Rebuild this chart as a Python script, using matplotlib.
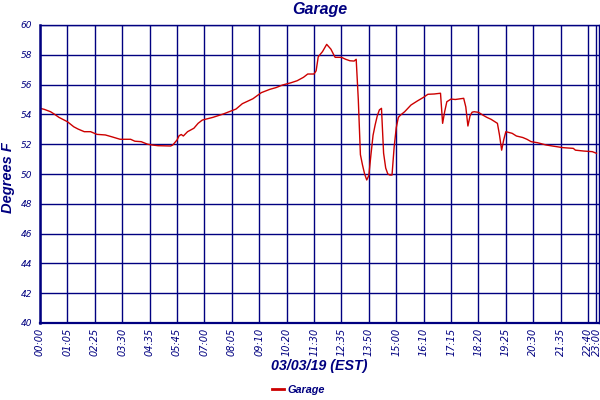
import matplotlib
matplotlib.use("Agg")
import matplotlib.pyplot as plt

# odczyty temperatury (indeks próbki co ~5 min, stopnie F)
sample_idx = [0, 2, 5, 7, 9, 13, 16, 18, 21, 24, 27, 31, 34, 38, 43, 45, 48, 51, 53, 56,
              62, 63, 65, 66, 67, 68, 70, 73, 75, 77, 82, 87, 93, 96, 101, 105, 109, 112,
              115, 119, 122, 125, 127, 130, 131, 132, 134, 136, 138, 139, 140, 143, 145,
              147, 149, 150, 151, 152, 153, 154, 155, 156, 157, 158, 159, 160, 161, 162,
              163, 164, 165, 166, 167, 168, 169, 170, 171, 173, 176, 179, 182, 184, 187,
              190, 191, 192, 193, 195, 197, 201, 202, 203, 204, 205, 206, 208, 210, 212,
              214, 217, 218, 219, 220, 221, 224, 226, 229, 231, 233, 236, 240, 243, 248,
              253, 254, 258, 262, 264]
temp_f = [54.41, 54.34, 54.18, 54.00, 53.80, 53.51, 53.17, 53.02, 52.84, 52.84, 52.66,
          52.62, 52.50, 52.33, 52.33, 52.20, 52.17, 52.00, 51.95, 51.90, 51.88, 51.95,
          52.28, 52.57, 52.65, 52.55, 52.84, 53.07, 53.40, 53.62, 53.80, 54.03, 54.36,
          54.72, 55.05, 55.46, 55.68, 55.80, 55.97, 56.12, 56.26, 56.49, 56.71, 56.71,
          56.93, 57.87, 58.21, 58.70, 58.38, 58.10, 57.83, 57.83, 57.70, 57.60, 57.58,
          57.70, 55.00, 51.30, 50.60, 50.00, 49.60, 49.90, 51.30, 52.60, 53.30, 53.90,
          54.30, 54.41, 51.40, 50.40, 50.00, 49.93, 49.93, 51.80, 53.10, 53.80, 53.95,
          54.18, 54.63, 54.90, 55.15, 55.35, 55.37, 55.42, 53.40, 54.20, 54.85, 55.03,
          55.00, 55.08, 54.50, 53.22, 53.90, 54.15, 54.18, 54.14, 53.96, 53.80, 53.67,
          53.40, 52.60, 51.60, 52.30, 52.84, 52.73, 52.55, 52.45, 52.33, 52.17, 52.10,
          51.95, 51.88, 51.77, 51.72, 51.60, 51.54, 51.50, 51.39]

tick_idx = [0, 13, 26, 39, 52, 65, 78, 91, 104, 117, 130, 143, 156, 169, 182, 195,
            208, 221, 234, 247, 260, 264]
tick_labels = ['00:00', '01:05', '02:25', '03:30', '04:35', '05:45', '07:00', '08:05',
               '09:10', '10:20', '11:30', '12:35', '13:50', '15:00', '16:10', '17:15',
               '18:20', '19:25', '20:30', '21:35', '22:40', '23:00']
y_ticks = [40, 42, 44, 46, 48, 50, 52, 54, 56, 58, 60]

navy = '#000080'

fig = plt.figure(figsize=(6, 4), dpi=100)
ax = fig.add_axes([40 / 600, 77 / 400, 558.6 / 600, 298 / 400])

ax.plot(sample_idx, temp_f, color='#cc0000', linewidth=1.0, label='Garage')

ax.set_xlim(0, 265)
ax.set_ylim(40, 60)
ax.set_xticks(tick_idx)
ax.set_xticklabels(tick_labels, rotation=90, fontsize=7, style='italic', color=navy)
ax.set_yticks(y_ticks)
ax.set_yticklabels([str(v) for v in y_ticks], fontsize=6.5, style='italic', color=navy)
ax.tick_params(axis='both', length=0)
ax.tick_params(axis='x', pad=3.5)
ax.tick_params(axis='y', pad=5.5)
ax.grid(True, color=navy, linewidth=1.0)
ax.set_axisbelow(True)
for side, sp in ax.spines.items():
    sp.set_color(navy)
    sp.set_linewidth(1.0)
ax.spines['left'].set_linewidth(1.8)
ax.spines['bottom'].set_linewidth(1.6)

sans = 'Liberation Sans'
ax.set_title('Garage', fontsize=11.5, fontweight='bold', style='italic',
             family=sans, color=navy, pad=8)
ax.set_ylabel('Degrees F', fontsize=10.5, fontweight='bold', style='italic',
              family=sans, color=navy)
ax.yaxis.set_label_coords(-25 / 558.6, (323 - 178) / 298)
ax.set_xlabel('03/03/19 (EST)', fontsize=10.3, fontweight='bold', style='italic',
              family=sans, color=navy)
ax.xaxis.set_label_coords(0.5, (323 - 359) / 298)

fig.legend(loc='center', bbox_to_anchor=(0.497, 0.025), frameon=False,
           handlelength=1.1, handletextpad=0.35,
           prop={'family': sans, 'size': 7.8, 'weight': 'bold', 'style': 'italic'},
           labelcolor=navy)
for h in fig.legends[0].get_lines():
    h.set_linewidth(2)

fig.savefig('out.png', dpi=100, facecolor='white')
